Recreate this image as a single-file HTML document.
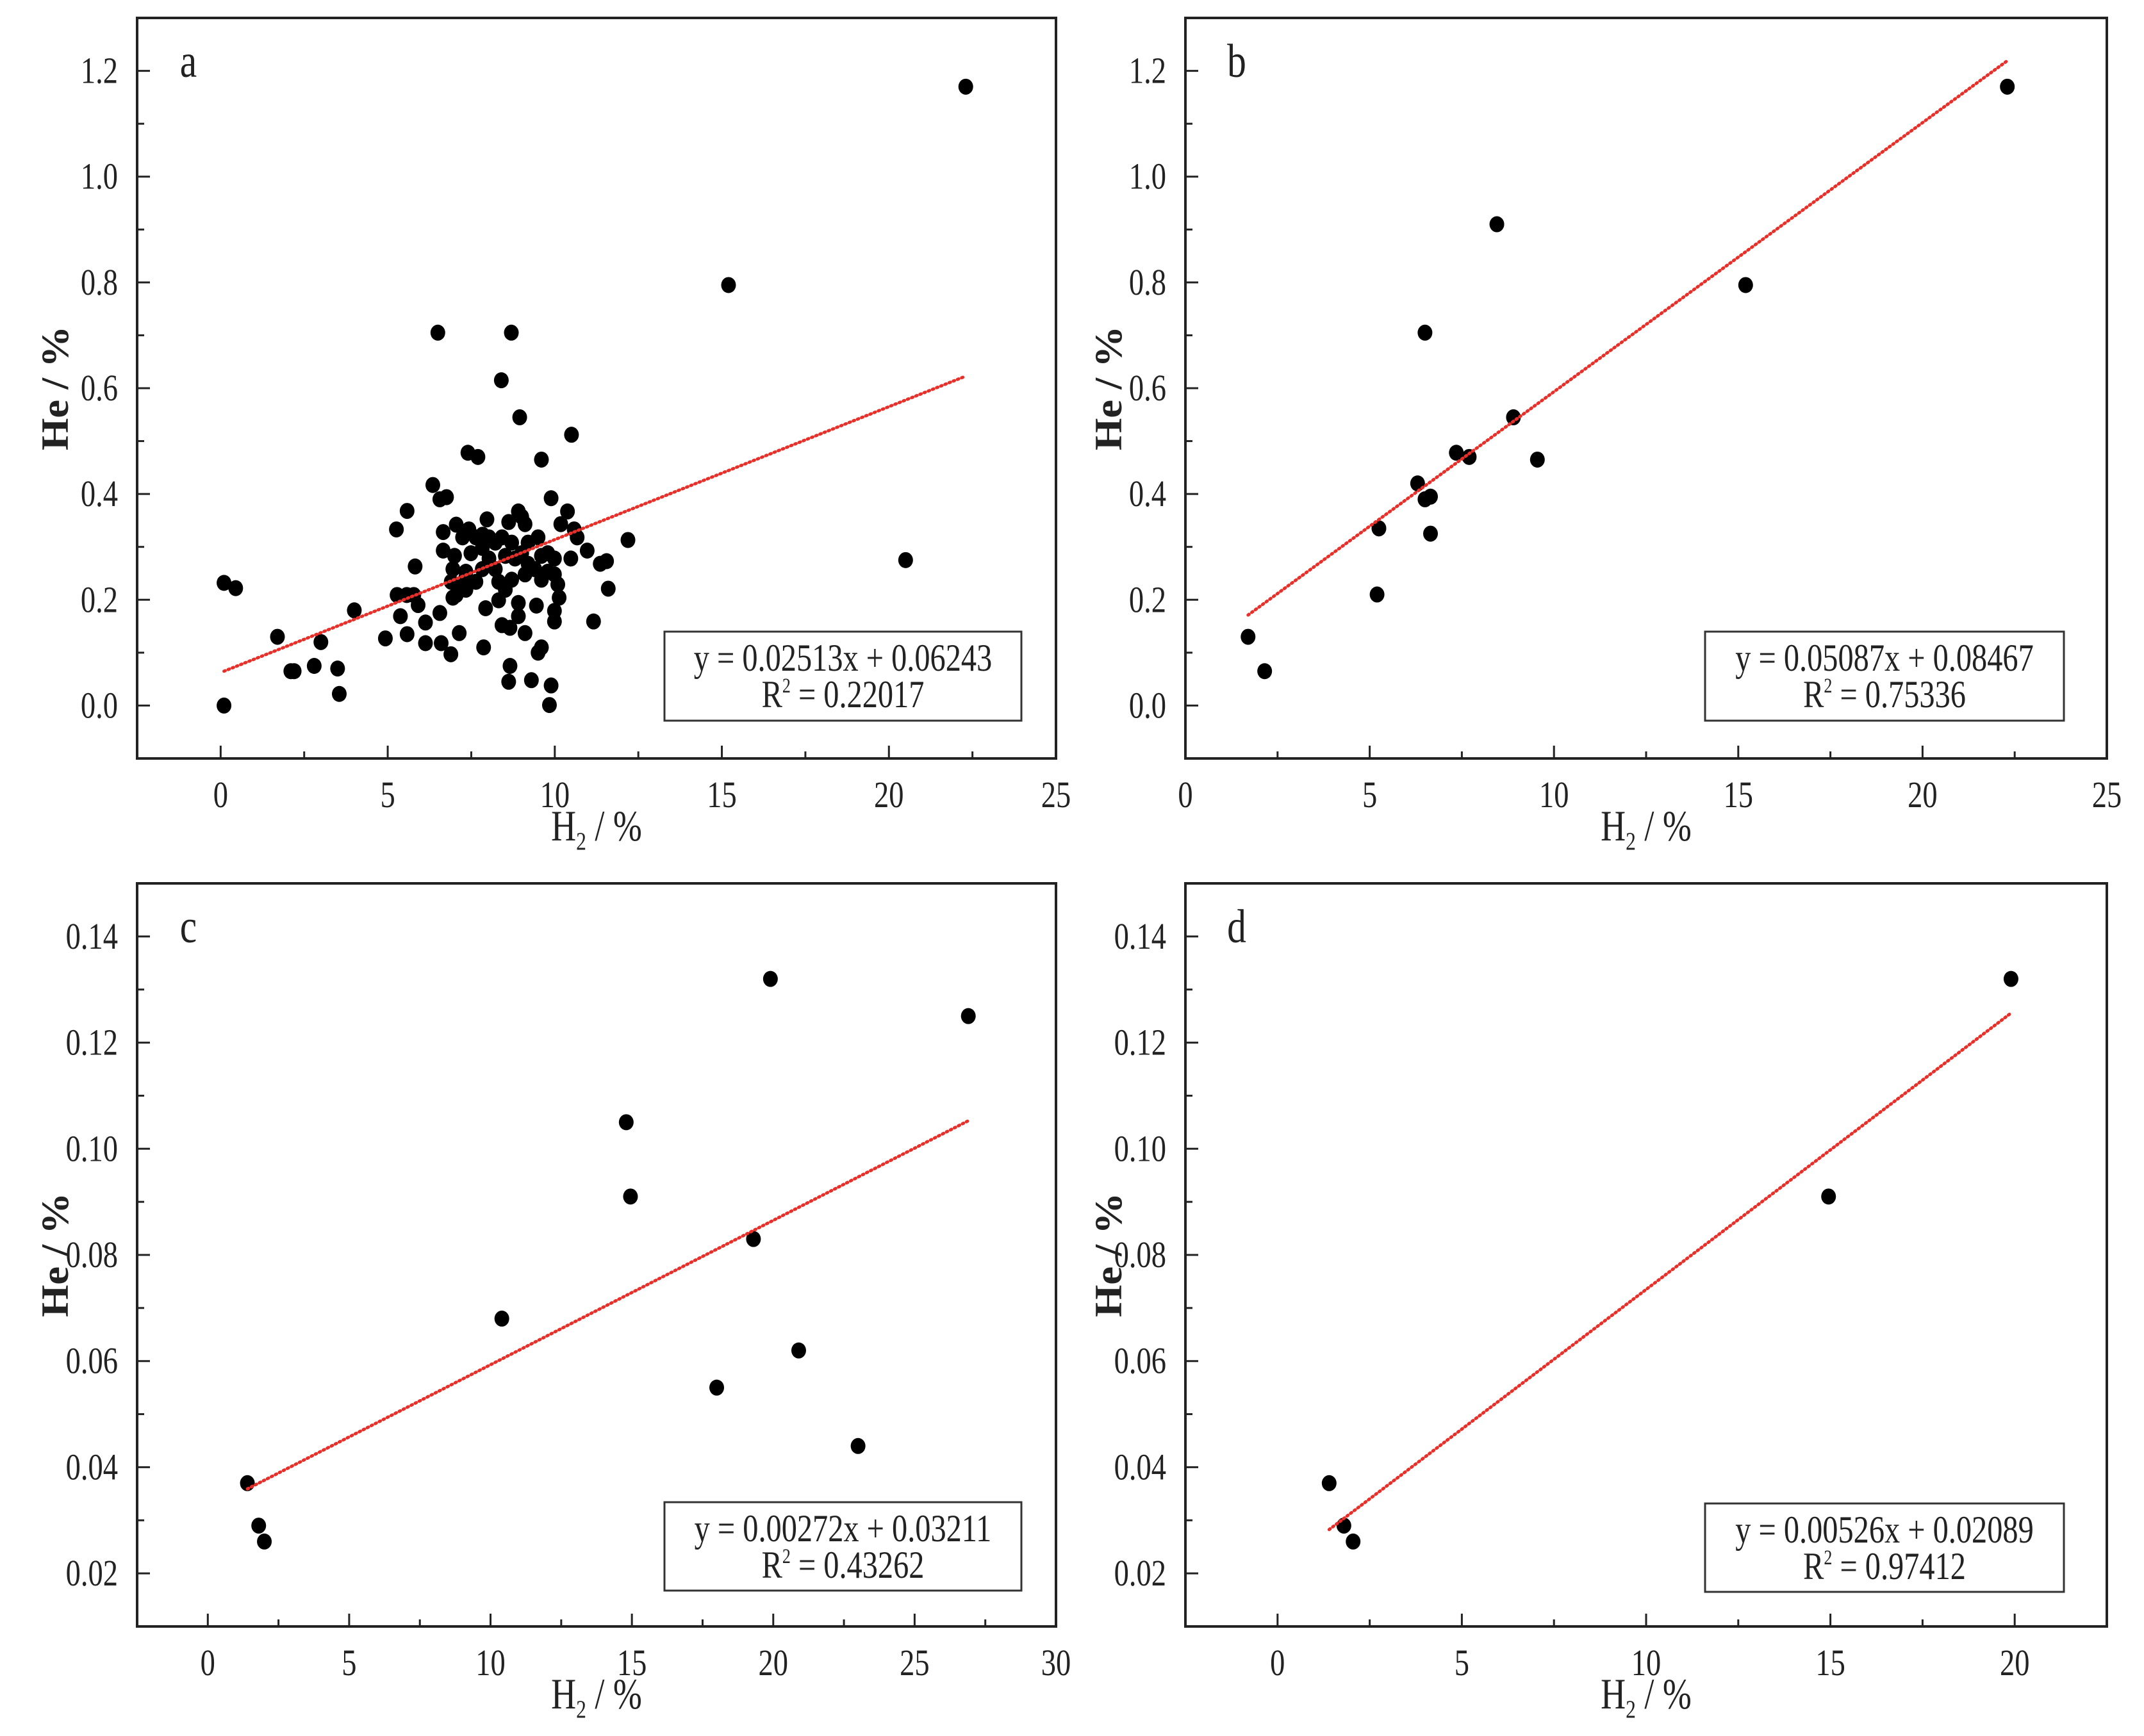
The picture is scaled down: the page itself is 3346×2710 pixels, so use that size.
<!DOCTYPE html>
<html><head><meta charset="utf-8"><style>
html,body{margin:0;padding:0;background:#fff;}
svg{display:block;}
text{font-family:"Liberation Serif",serif;fill:#222;}
</style></head>
<body>
<svg id="fig" width="3346" height="2710" viewBox="0 0 3346 2710" xmlns="http://www.w3.org/2000/svg">
<rect width="3346" height="2710" fill="#fff"/>
</svg>
<script>
// ---------- DATA ----------
const aX = [22.3,15.2,20.5,0.1,0.1,0.45,1.7,2.1,2.2,2.8,3.0,3.5,3.55,4.0,6.5,8.7,8.4,8.95,10.5,7.4,7.7,9.6,
 5.26,5.58,5.82,5.28,5.57,5.78,5.38,5.91,6.13,4.93,5.58,6.13,6.6,6.89,6.56,7.14,7.87,6.35,6.56,6.76,6.66,7.05,7.43,7.64,7.84,7.97,
 6.66,7.0,6.95,6.9,6.95,7.34,7.64,7.49,7.83,8.03,8.22,8.42,8.62,8.91,9.01,9.11,8.22,8.32,8.52,8.71,8.81,9.01,9.2,9.4,9.6,9.5,9.79,9.99,
 10.18,10.38,10.58,10.67,10.97,10.48,11.36,11.55,11.6,11.16,12.19,9.89,9.99,10.09,10.13,9.99,9.99,9.45,8.91,8.91,8.32,7.93,8.42,8.66,9.11,
 9.6,9.5,8.66,8.62,9.3,9.89,9.84,7.24,7.34,7.15,7.05,7.83,8.03,8.52,8.71,9.2,9.11,9.6,9.79,7.34];
const aY = [1.17,0.795,0.275,0.0,0.232,0.222,0.13,0.065,0.065,0.075,0.12,0.07,0.022,0.18,0.705,0.705,0.615,0.545,0.512,0.478,0.47,0.465,
 0.333,0.368,0.263,0.209,0.209,0.209,0.169,0.19,0.157,0.127,0.135,0.118,0.118,0.097,0.175,0.137,0.11,0.417,0.39,0.394,0.328,0.342,0.333,0.318,0.323,0.352,
 0.293,0.283,0.258,0.234,0.204,0.219,0.234,0.288,0.258,0.278,0.308,0.318,0.347,0.367,0.357,0.343,0.258,0.234,0.219,0.238,0.278,0.288,0.268,0.258,0.283,0.318,0.288,0.278,
 0.343,0.367,0.333,0.318,0.293,0.278,0.268,0.273,0.221,0.159,0.313,0.392,0.248,0.229,0.204,0.179,0.159,0.189,0.194,0.169,0.199,0.184,0.152,0.147,0.137,
 0.11,0.1,0.075,0.045,0.048,0.038,0.001,0.318,0.253,0.229,0.209,0.298,0.318,0.283,0.308,0.308,0.248,0.238,0.253,0.243];
const bX = [1.7,2.15,5.2,5.25,6.3,6.5,6.5,6.65,6.65,7.35,7.7,8.45,8.9,9.55,15.2,22.3];
const bY = [0.13,0.065,0.21,0.335,0.42,0.705,0.39,0.395,0.325,0.478,0.47,0.91,0.545,0.465,0.795,1.17];
const cX = [1.4,1.8,2.0,10.4,14.8,14.95,18.0,19.3,19.9,20.9,23.0,26.9];
const cY = [0.037,0.029,0.026,0.068,0.105,0.091,0.055,0.083,0.132,0.062,0.044,0.125];
const dX = [1.4,1.8,2.05,14.95,19.9];
const dY = [0.037,0.029,0.026,0.091,0.132];
const fitSlope = [0.02513,0.05087,0.00272,0.00526];
const fitIntercept = [0.06243,0.08467,0.03211,0.02089];
const eqLabels = ["y = 0.02513x + 0.06243","y = 0.05087x + 0.08467","y = 0.00272x + 0.03211","y = 0.00526x + 0.02089"];
const r2Labels = ["0.22017","0.75336","0.43262","0.97412"];
const panelLetters = ["a","b","c","d"];
const xTicksA = [0,5,10,15,20,25];
const xTicksB = [0,5,10,15,20,25];
const xTicksC = [0,5,10,15,20,25,30];
const xTicksD = [0,5,10,15,20];
const yTicksTop = [0.0,0.2,0.4,0.6,0.8,1.0,1.2];
const yTicksBot = [0.02,0.04,0.06,0.08,0.10,0.12,0.14];

const NS="http://www.w3.org/2000/svg";
const svg=document.getElementById('fig');
function mk(tag,attrs,parent){const e=document.createElementNS(NS,tag);for(const k in attrs)e.setAttribute(k,attrs[k]);(parent||svg).appendChild(e);return e;}
const SX=0.93, SY=1.16;
function stretchText(parent,x,y,size,anchor,extra){
  const a=Object.assign({x:0,y:0,'font-size':size,'text-anchor':anchor,transform:'translate('+x+' '+y+') scale('+SX+' '+SY+')'},extra||{});
  return mk('text',a,parent);
}

const panels=[
 {key:'a',xs:aX,ys:aY,L:214,R:1648,T:28,B:1184,x0:-2.5,x1:25,y0:-0.1,y1:1.3,xt:xTicksA,yt:yTicksTop,dec:1,xminor:2.5,yminor:0.1,box:[1037,986,557,139],titleY:1312,ytitleX:85},
 {key:'b',xs:bX,ys:bY,L:1850,R:3288,T:28,B:1184,x0:0,x1:25,y0:-0.1,y1:1.3,xt:xTicksB,yt:yTicksTop,dec:1,xminor:2.5,yminor:0.1,box:[2661,986,560,139],titleY:1312,ytitleX:1729},
 {key:'c',xs:cX,ys:cY,L:214,R:1648,T:1379,B:2539,x0:-2.5,x1:30,y0:0.01,y1:0.15,xt:xTicksC,yt:yTicksBot,dec:2,xminor:2.5,yminor:0.01,box:[1037,2345,557,138],titleY:2667,ytitleX:85},
 {key:'d',xs:dX,ys:dY,L:1850,R:3288,T:1379,B:2539,x0:-2.5,x1:22.5,y0:0.01,y1:0.15,xt:xTicksD,yt:yTicksBot,dec:2,xminor:2.5,yminor:0.01,box:[2661,2347,560,138],titleY:2667,ytitleX:1729}
];

panels.forEach((p,i)=>{
 const g=mk('g',{});
 
 
 const sx=v=>p.L+(v-p.x0)/(p.x1-p.x0)*(p.R-p.L);
 const sy=v=>p.B-(v-p.y0)/(p.y1-p.y0)*(p.B-p.T);
 for(let v=Math.ceil(p.x0/p.xminor)*p.xminor; v<=p.x1+1e-9; v+=p.xminor){
   const major=p.xt.some(t=>Math.abs(t-v)<1e-9);
   const t=mk('line',{x1:sx(v),x2:sx(v),y1:p.B,y2:p.B-(major?20:11),stroke:'#222','stroke-width':3},g);
   
   
 }
 for(let k=Math.ceil(p.y0/p.yminor-1e-9); k*p.yminor<=p.y1+1e-9; k++){
   const v=k*p.yminor;
   const major=p.yt.some(t=>Math.abs(t-v)<1e-9);
   const t=mk('line',{x1:p.L,x2:p.L+(major?20:11),y1:sy(v),y2:sy(v),stroke:'#222','stroke-width':3},g);
   
   
 }
 p.xt.forEach(v=>{
   const t=stretchText(g,sx(v),p.B+76,50,'middle');
   t.textContent=String(v);
   
   
 });
 p.yt.forEach(v=>{
   const t=stretchText(g,p.L-30,sy(v)+19,50,'end');
   t.textContent=v.toFixed(p.dec);
   
   
 });
 const fr=mk('rect',{x:p.L,y:p.T,width:p.R-p.L,height:p.B-p.T,fill:'none',stroke:'#222','stroke-width':4},g);
 
 
 p.xs.forEach((x,j)=>{
   const c=mk('ellipse',{cx:sx(x),cy:sy(p.ys[j]),rx:11.5,ry:12.5,fill:'#000'},g);
   
   
 });
 const xmin=Math.min(...p.xs), xmax=Math.max(...p.xs);
 const ln=mk('line',{x1:sx(xmin),y1:sy(fitSlope[i]*xmin+fitIntercept[i]),x2:sx(xmax),y2:sy(fitSlope[i]*xmax+fitIntercept[i]),stroke:'#e8302a','stroke-width':5,'stroke-dasharray':'2 5','stroke-linecap':'round'},g);
 
 
 const [bx,by,bw,bh]=p.box;
 const lb=mk('rect',{x:bx,y:by,width:bw,height:bh,fill:'#fff',stroke:'#333','stroke-width':3},g);
 
 
 const e1=stretchText(g,bx+bw/2,by+61,52,'middle');
 e1.textContent=eqLabels[i];
 
 
 const e2=stretchText(g,bx+bw/2,by+118,52,'middle');
 e2.innerHTML='R<tspan font-size="28" dy="-20">2</tspan><tspan dy="20"> = '+r2Labels[i]+'</tspan>';
 
 
 const pl=stretchText(g,p.L+80,p.T+92,64,'middle');
 pl.textContent=panelLetters[i];
 
 
 const xt=stretchText(g,(p.L+p.R)/2,p.titleY,58,'middle');
 xt.innerHTML='H<tspan font-size="34" dy="12">2</tspan><tspan dy="-12"> / %</tspan>';
 
 
 const cy=(p.T+p.B)/2;
 const yt=mk('text',{x:0,y:0,'font-size':60,'font-weight':'bold','text-anchor':'middle',transform:'translate('+(p.ytitleX+21)+' '+cy+') rotate(-90) scale(1.08 1)'},g);
 yt.textContent='He / %';
 
 
});
</script>
</body></html>
